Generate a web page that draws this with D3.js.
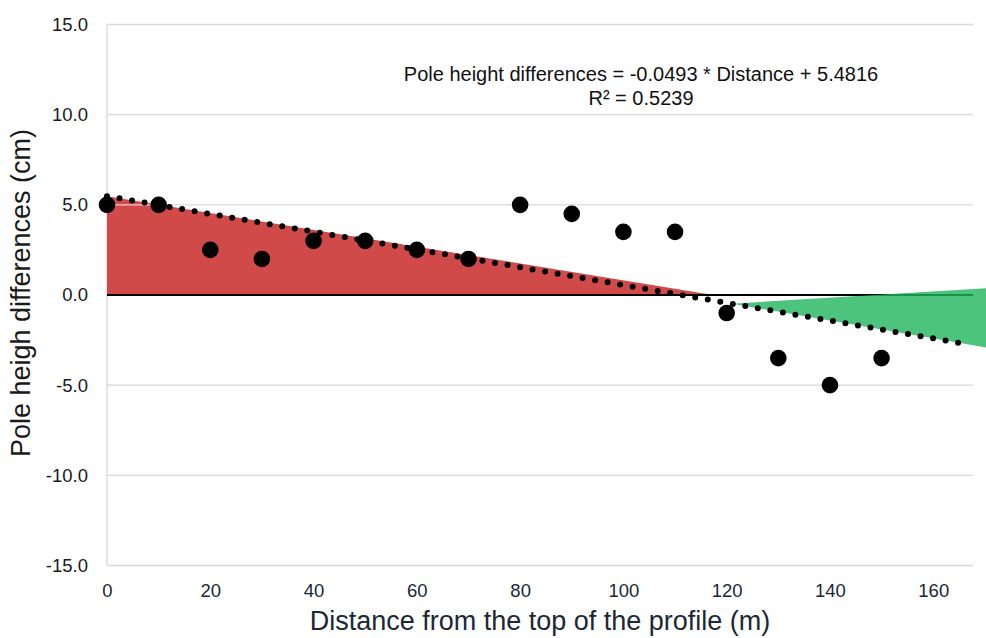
<!DOCTYPE html>
<html><head><meta charset="utf-8">
<script src="https://cdn.jsdelivr.net/npm/d3@7"></script>
<style>body{margin:0;background:#fff}svg{display:block}text{font-family:"Liberation Sans",Arial,sans-serif}</style>
</head><body>
<svg id="c" width="986" height="638"></svg>
<script>
const distance = [0,10,20,30,40,50,60,70,80,90,100,110,120,130,140,150];
const heightDiff = [5,5,2.5,2,3,3,2.5,2,5,4.5,3.5,3.5,-1,-3.5,-5,-3.5];
const xTicks = [0,20,40,60,80,100,120,140,160];
const yTicks = [-15,-10,-5,0,5,10,15];
const slope = -0.0493, intercept = 5.4816;
const redArea = [[0,5.48],[117.4,0],[0,0]];
const greenArea = [[121,-0.48],[172,0.4],[172,-3.0]];
const gridSegment = [[0,5],[10,5]];

const svg = d3.select("#c");
const x = d3.scaleLinear().domain([0,167.7]).range([107,973]);
const y = d3.scaleLinear().domain([-15,15]).range([565.5,24.5]);

svg.append("g").selectAll("line").data(yTicks.filter(d=>d!==0)).join("line")
  .attr("x1",x(0)).attr("x2",x.range()[1]).attr("y1",d=>y(d)).attr("y2",d=>y(d))
  .attr("stroke","#d9d9d9").attr("stroke-width",1.3);
svg.append("line").attr("x1",x(0)).attr("x2",x(0)).attr("y1",y(15)).attr("y2",y(-15))
  .attr("stroke","#d9d9d9").attr("stroke-width",1.3);

const line = d3.line().x(d=>x(d[0])).y(d=>y(d[1]));
svg.append("path").attr("d",line(redArea)+"Z").attr("fill","#d14a4a");
svg.append("path").attr("d",line(gridSegment)).attr("stroke","#f2c9c9").attr("stroke-width",1.3);
svg.append("line").attr("x1",x(0)).attr("x2",x.range()[1]).attr("y1",y(0)).attr("y2",y(0))
  .attr("stroke","#000").attr("stroke-width",2);
svg.append("path").attr("d",line(greenArea)+"Z").attr("fill","#1fb55e").attr("fill-opacity",0.8);

const tx = [0,166.2];
svg.append("path").attr("d",line(tx.map(v=>[v,slope*v+intercept])))
  .attr("fill","none").attr("stroke","#000").attr("stroke-width",6)
  .attr("stroke-linecap","round").attr("stroke-dasharray","0 12.7");

svg.append("g").selectAll("circle").data(distance).join("circle")
  .attr("cx",(d)=>x(d)).attr("cy",(d,i)=>y(heightDiff[i])).attr("r",8.3).attr("fill","#000");

const fmt = d => d3.format(".1f")(d).replace("\u2212","-");
const xAxis = svg.append("g").attr("transform",`translate(0,${y(-15)})`)
  .call(d3.axisBottom(x).tickValues(xTicks).tickSize(0).tickPadding(18));
xAxis.select(".domain").remove();
xAxis.selectAll("text").attr("font-size",18.5).attr("fill","#1b2836").attr("font-family","Liberation Sans, Arial");
const yAxis = svg.append("g").attr("transform",`translate(${x(0)},0)`)
  .call(d3.axisLeft(y).tickValues(yTicks).tickSize(0).tickPadding(19).tickFormat(fmt));
yAxis.select(".domain").remove();
yAxis.selectAll("text").attr("font-size",18.5).attr("fill","#1a1a1a").attr("font-family","Liberation Sans, Arial");

svg.append("text").attr("x",540).attr("y",630).attr("text-anchor","middle")
  .attr("font-size",27).attr("fill","#1b2836").text("Distance from the top of the profile (m)");
svg.append("text").attr("transform","translate(30,293) rotate(-90)").attr("text-anchor","middle")
  .attr("font-size",27).attr("fill","#1a1a1a").text("Pole heigh differences (cm)");

svg.append("text").attr("x",641).attr("y",81).attr("text-anchor","middle").attr("font-size",20)
  .attr("fill","#111").text("Pole height differences = -0.0493 * Distance + 5.4816");
svg.append("text").attr("x",641).attr("y",105).attr("text-anchor","middle").attr("font-size",20)
  .attr("fill","#111").text("R² = 0.5239");
</script>
</body></html>
